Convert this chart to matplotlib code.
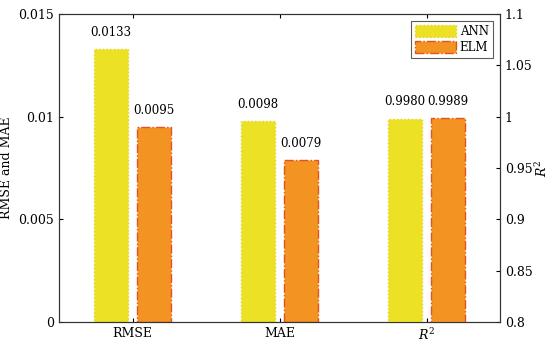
import matplotlib
matplotlib.use("Agg")
import matplotlib.pyplot as plt
import numpy as np

plt.rcParams['font.family'] = ['DejaVu Serif']
plt.rcParams['mathtext.fontset'] = 'dejavuserif'

categories = ['RMSE', 'MAE', r'$R^2$']
ann_vals = [0.0133, 0.0098, 0.9980]
elm_vals = [0.0095, 0.0079, 0.9989]
ann_labels = ['0.0133', '0.0098', '0.9980']
elm_labels = ['0.0095', '0.0079', '0.9989']
left_ticks = [0, 0.005, 0.01, 0.015]
left_ticklabels = ['0', '0.005', '0.01', '0.015']
right_ticks = [0.8, 0.85, 0.9, 0.95, 1.0, 1.05, 1.1]
right_ticklabels = ['0.8', '0.85', '0.9', '0.95', '1', '1.05', '1.1']

ann_face = '#ECE124'
ann_edge = '#E8D21A'
elm_face = '#F39322'
elm_edge = '#E0551C'

fig = plt.figure(figsize=(5.5, 3.44), dpi=100)
ax = fig.add_axes([59/550, 1-322/344, 441/550, 308/344])
ax2 = ax.twinx()

x = np.arange(1, 4)
w = 0.235
off = 0.145

# left axis: RMSE, MAE
ax.bar(x[:2]-off, ann_vals[:2], w, color=ann_face, edgecolor=ann_edge, linestyle=':', linewidth=1.0, label='ANN')
ax.bar(x[:2]+off, elm_vals[:2], w, color=elm_face, edgecolor=elm_edge, linestyle='-.', linewidth=1.0, label='ELM')
# right axis: R^2
ax2.bar(x[2:]-off, ann_vals[2:], w, color=ann_face, edgecolor=ann_edge, linestyle=':', linewidth=1.0)
ax2.bar(x[2:]+off, elm_vals[2:], w, color=elm_face, edgecolor=elm_edge, linestyle='-.', linewidth=1.0)

ax.set_ylim(0, 0.015)
ax2.set_ylim(0.8, 1.1)
ax.set_xlim(0.5, 3.5)
ax.set_yticks(left_ticks)
ax.set_yticklabels(left_ticklabels)
ax2.set_yticks(right_ticks)
ax2.set_yticklabels(right_ticklabels)
ax.set_xticks(x)
ax.set_xticklabels(categories)

for a in (ax, ax2):
    a.tick_params(direction='in', length=3, labelsize=9, width=0.8)
ax.tick_params(axis='x', top=True, length=3)

for i in range(2):
    ax.text(x[i]-off, ann_vals[i] + 0.0005, ann_labels[i], ha='center', va='bottom', fontsize=8.5)
    ax.text(x[i]+off, elm_vals[i] + 0.0005, elm_labels[i], ha='center', va='bottom', fontsize=8.5)
ax2.text(x[2]-off, ann_vals[2] + 0.01, ann_labels[2], ha='center', va='bottom', fontsize=8.5)
ax2.text(x[2]+off, elm_vals[2] + 0.01, elm_labels[2], ha='center', va='bottom', fontsize=8.5)

ax.set_ylabel('RMSE and MAE', fontsize=9, labelpad=4)
ax2.set_ylabel(r'$R^2$', fontsize=9, labelpad=1)

for a in (ax, ax2):
    for s in a.spines.values():
        s.set_linewidth(0.8)
        s.set_color('#333333')

leg = ax.legend(loc='upper right', fontsize=8.5, frameon=True, fancybox=False,
                edgecolor='#333333', borderpad=0.35, handlelength=3.5, handleheight=1.2,
                labelspacing=0.2, handletextpad=0.3, borderaxespad=0.6)
leg.get_frame().set_linewidth(0.8)

fig.savefig('out.png', dpi=100)
